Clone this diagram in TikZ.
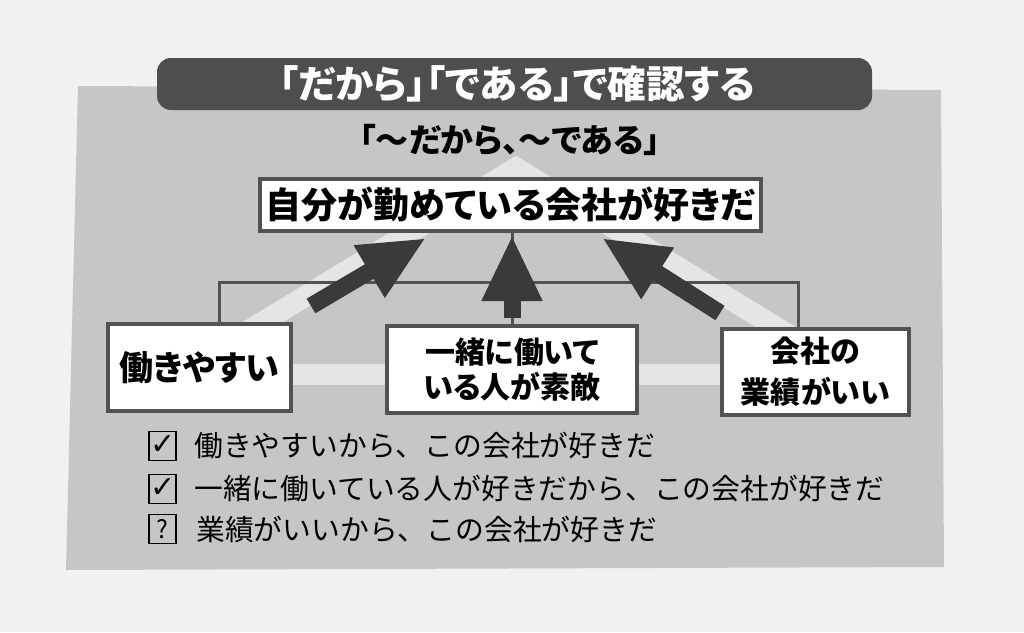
\documentclass[tikz,border=0pt]{standalone}
\usepackage{fontspec}
\newfontfamily\jp[RawFeature=+palt]{Noto Sans CJK JP}
\newfontfamily\jpfw{Noto Sans CJK JP}
\newfontfamily\dejavu{DejaVu Sans}
\usetikzlibrary{arrows.meta}
\definecolor{pagebg}{RGB}{241,241,241}
\definecolor{panel}{RGB}{198,198,198}
\definecolor{stripe}{RGB}{229,229,229}
\definecolor{bar}{RGB}{78,78,78}
\definecolor{arrowc}{RGB}{58,58,58}
\definecolor{edge}{RGB}{82,82,82}
\tikzset{
  box/.style={draw=edge, line width=4pt, fill=white, inner sep=0pt, align=center, text=black},
  conn/.style={draw=edge, line width=3pt},
  bigarrow/.style={draw=arrowc, line width=17pt, -{Triangle[length=66pt,width=56pt]}},
  band/.style={draw=stripe, line width=21pt, line join=miter},
  chkbox/.style={draw=black, line width=1.3pt, minimum width=27pt, minimum height=29pt, inner sep=0pt},
  item/.style={anchor=west, inner sep=0pt, font=\jpfw\fontsize{28.8}{34}\selectfont},
}
\begin{document}
\begin{tikzpicture}[x=1pt,y=-1pt]
\fill[pagebg] (0,0) rectangle (1024,632);
\useasboundingbox (0,0) rectangle (1024,632);
% panel
\fill[panel] (78,86) -- (941,90) -- (944,567) -- (66,570) -- cycle;
% title bar
\fill[bar, rounded corners=14pt] (157,58) rectangle (872,110);
\node[text=white, font=\jp\bfseries\fontsize{38.5}{40}\selectfont, inner sep=0pt] (title) at (517,84) {「だから」「である」で確認する};
\node[font=\jp\bfseries\fontsize{33}{36}\selectfont, inner sep=0pt] (sub) at (510,140) {「～だから、～である」};
% light background stripes
\draw[band] (225,345) -- (516,168) -- (805,345);
\draw[band] (292,374) -- (722,374);
% main box and cause boxes
\node[box, minimum width=501pt, minimum height=52pt, font=\jp\bfseries\fontsize{36}{40}\selectfont] (main) at (510.5,205) {自分が勤めている会社が好きだ};
\node[box, minimum width=183pt, minimum height=87pt, font=\jp\bfseries\fontsize{34}{38}\selectfont] (b1) at (199.5,367.5) {働きやすい};
\node[box, minimum width=250pt, minimum height=87pt, font=\jp\bfseries\fontsize{30}{35}\selectfont] (b2) at (512,369.5) {一緒に働いて\\いる人が素敵};
\node[box, minimum width=187pt, minimum height=86pt, font=\jp\bfseries\fontsize{30}{41}\selectfont] (b3) at (815.5,372) {会社の\\業績がいい};
% bracket connectors
\draw[conn] ([xshift=19.5pt]b1.north) -- ++(0,-40) -| ([xshift=-17.5pt]b3.north);
\draw[conn] (b2.north) -- (b2.north |- main.south);
% big arrows
\coordinate (t1) at (311,306);
\coordinate (h1) at (426,238);
\coordinate (t2) at (512,318);
\coordinate (h2) at (512,235);
\coordinate (t3) at (720,313);
\coordinate (h3) at (602,238);
\draw[bigarrow] (t1) -- (h1);
\draw[bigarrow] (t2) -- (h2);
\draw[bigarrow] (t3) -- (h3);
% checklist
\node[chkbox] (c1) at (162.5,446) {};
\node[inner sep=0pt, font=\dejavu\fontsize{30}{30}\selectfont] (k1) at ([xshift=1pt,yshift=1pt]c1.center) {✓};
\node[item] (l1) at (194,446) {働きやすいから、この会社が好きだ};
\node[chkbox] (c2) at (162.5,489) {};
\node[inner sep=0pt, font=\dejavu\fontsize{30}{30}\selectfont] (k2) at ([xshift=1pt,yshift=1pt]c2.center) {✓};
\node[item] (l2) at (194,489) {一緒に働いている人が好きだから、この会社が好きだ};
\node[chkbox] (c3) at (162.5,529) {\jpfw\fontsize{25}{25}\selectfont ?};
\node[item] (l3) at (196,530) {業績がいいから、この会社が好きだ};
\end{tikzpicture}
\end{document}
